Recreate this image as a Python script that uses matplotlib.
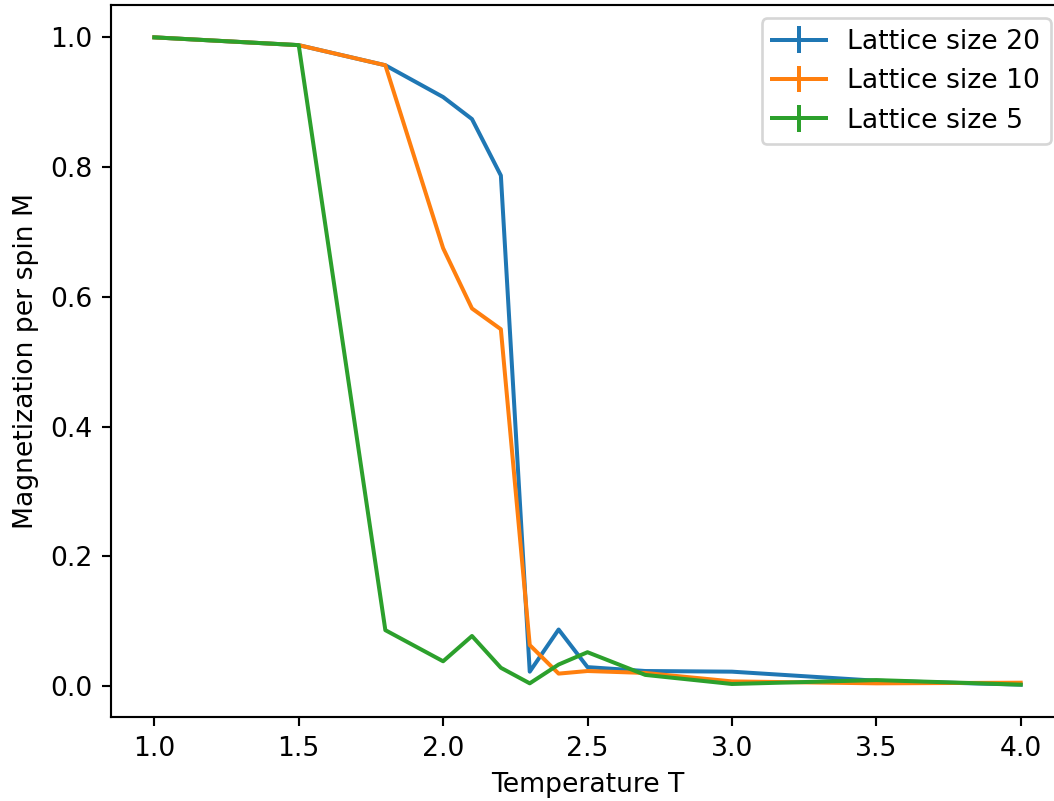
import matplotlib
matplotlib.use('Agg')
import matplotlib.pyplot as plt

# temperatures
T = [1.0, 1.5, 1.8, 2.0, 2.1, 2.2, 2.3, 2.4, 2.5, 2.7, 3.0, 3.5, 4.0]

# magnetization per spin for each lattice size
m20 = [1.0, 0.988, 0.957, 0.908, 0.874, 0.787, 0.022, 0.087, 0.029, 0.023, 0.022, 0.008, 0.002]
m10 = [1.0, 0.988, 0.957, 0.675, 0.582, 0.550, 0.063, 0.019, 0.023, 0.020, 0.007, 0.004, 0.005]
m5 = [1.0, 0.988, 0.086, 0.038, 0.077, 0.028, 0.004, 0.033, 0.052, 0.017, 0.003, 0.009, 0.002]

err = [0.0] * len(T)

dpi = 192
fig = plt.figure(figsize=(1054 / dpi, 801 / dpi), dpi=dpi)
# right spine falls just outside the picture, as in the original crop
ax = fig.add_axes([111 / 1054, 84 / 801, 953 / 1054, 712 / 801])

ax.errorbar(T, m20, yerr=err, label='Lattice size 20')
ax.errorbar(T, m10, yerr=err, label='Lattice size 10')
ax.errorbar(T, m5, yerr=err, label='Lattice size 5')

ax.set_xlabel('Temperature T')
ax.set_ylabel('Magnetization per spin M')
ax.legend()

fig.savefig('out.png', dpi=dpi)
